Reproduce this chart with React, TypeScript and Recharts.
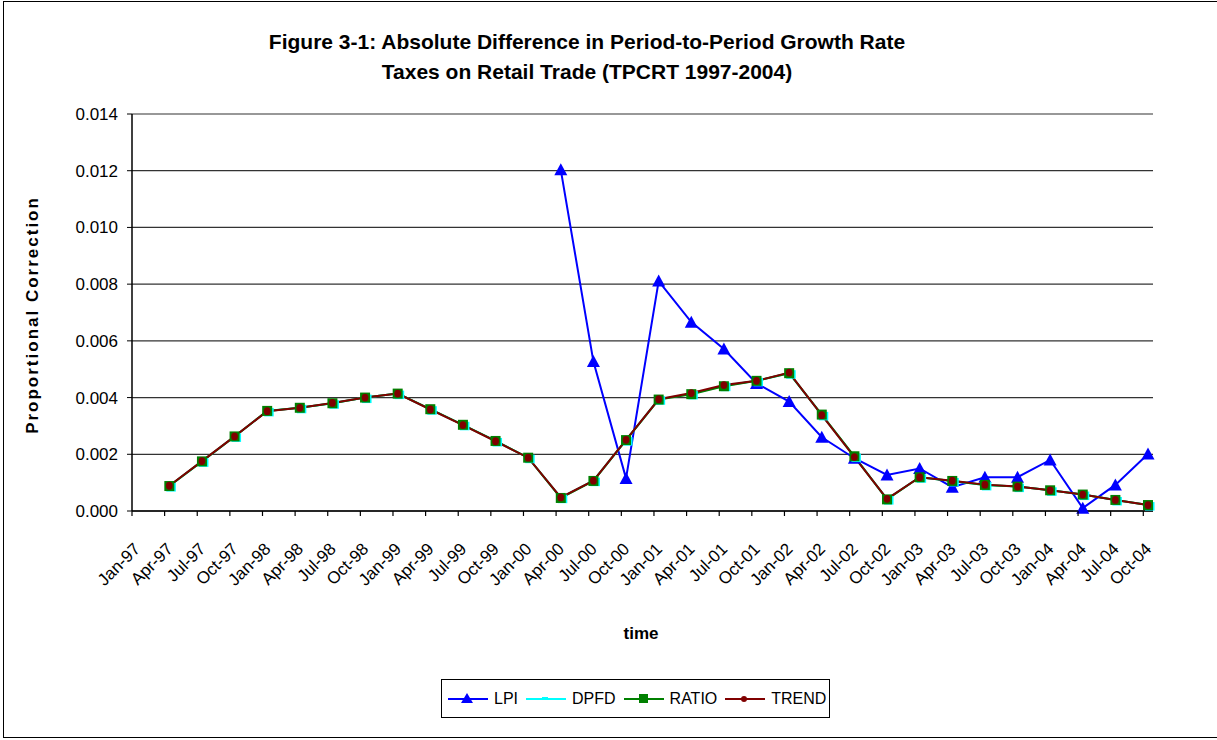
import { LineChart, Line, XAxis, YAxis, CartesianGrid, Legend } from "recharts";

const quarters = [
  "Jan-97", "Apr-97", "Jul-97", "Oct-97",
  "Jan-98", "Apr-98", "Jul-98", "Oct-98",
  "Jan-99", "Apr-99", "Jul-99", "Oct-99",
  "Jan-00", "Apr-00", "Jul-00", "Oct-00",
  "Jan-01", "Apr-01", "Jul-01", "Oct-01",
  "Jan-02", "Apr-02", "Jul-02", "Oct-02",
  "Jan-03", "Apr-03", "Jul-03", "Oct-03",
  "Jan-04", "Apr-04", "Jul-04", "Oct-04",
];

// LPI only starts in Apr-00
const lpi = [
  null, null, null, null, null, null, null, null, null, null, null, null, null,
  0.01203, 0.00527, 0.00115, 0.00811, 0.00666, 0.00571, 0.0045, 0.00386,
  0.0026, 0.00186, 0.00127, 0.0015, 0.00084, 0.00119, 0.00119, 0.0018,
  0.0001, 0.00092, 0.00201,
];

const dpfd = [
  null, 0.00088, 0.00175, 0.00263, 0.00353, 0.00364, 0.0038, 0.004,
  0.00414, 0.00359, 0.00304, 0.00247, 0.00188, 0.00047, 0.00107, 0.0025,
  0.00394, 0.00413, 0.00442, 0.00459, 0.00486, 0.00339, 0.00192, 0.00042,
  0.00119, 0.00106, 0.00092, 0.00086, 0.00073, 0.00058, 0.00039, 0.00021,
];

const ratio = [
  null, 0.00088, 0.00175, 0.00263, 0.00353, 0.00364, 0.0038, 0.004,
  0.00414, 0.00359, 0.00304, 0.00247, 0.00188, 0.00046, 0.00106, 0.0025,
  0.00393, 0.00412, 0.0044, 0.00459, 0.00486, 0.0034, 0.00193, 0.00041,
  0.00119, 0.00106, 0.00092, 0.00086, 0.00073, 0.00058, 0.00039, 0.00021,
];

const trend = [
  null, 0.00089, 0.00176, 0.00263, 0.00352, 0.00364, 0.00381, 0.004,
  0.00414, 0.00358, 0.00303, 0.00246, 0.00188, 0.00048, 0.00107, 0.00251,
  0.00394, 0.00416, 0.00444, 0.00459, 0.00488, 0.00338, 0.0019, 0.00043,
  0.00119, 0.00107, 0.00093, 0.00086, 0.00073, 0.00058, 0.00039, 0.00021,
];

const yTicks = [0, 0.002, 0.004, 0.006, 0.008, 0.01, 0.012, 0.014];

const legendOrder = ["lpi", "dpfd", "ratio", "trend"];

const data = quarters.map((q, i) => ({
  q,
  lpi: lpi[i],
  dpfd: dpfd[i],
  ratio: ratio[i],
  trend: trend[i],
}));

const FONT = "'Liberation Sans', Arial, sans-serif";

function Triangle({ cx, cy }: any) {
  if (cx == null || cy == null) return <g />;
  return <path d={`M${cx},${cy - 6.5} L${cx + 6.5},${cy + 5.5} L${cx - 6.5},${cy + 5.5} Z`} fill="#0000ff" />;
}

function Dash({ cx, cy }: any) {
  if (cx == null || cy == null) return <g />;
  return <rect x={cx - 3} y={cy - 3} width={9.5} height={8.5} fill="#00ffff" />;
}

function Square({ cx, cy }: any) {
  if (cx == null || cy == null) return <g />;
  return <rect x={cx - 5} y={cy - 5} width={10} height={10} fill="#008000" />;
}

function Dot({ cx, cy }: any) {
  if (cx == null || cy == null) return <g />;
  return <ellipse cx={cx} cy={cy} rx={3.4} ry={3.9} fill="#800000" />;
}

function XTick({ x, y, payload }: any) {
  const ax = x + 4.5;
  const ay = y + 31;
  return (
    <g>
      <line x1={x - 4.7} y1={y - 8} x2={x - 4.7} y2={y - 3} stroke="#000" strokeWidth={1.2} />
      <text
        x={ax}
        y={ay}
        textAnchor="end"
        fontSize={17}
        fontFamily={FONT}
        fill="#000"
        transform={`rotate(-45 ${ax} ${ay})`}
      >
        {payload.value}
      </text>
    </g>
  );
}

const legendIcons: Record<string, (c: string) => any> = {
  lpi: (c) => <path d="M14,3 L20,13 L8,13 Z" fill={c} />,
  dpfd: (c) => <rect x={11} y={7} width={6} height={3} fill={c} />,
  ratio: (c) => <rect x={10} y={4} width={9} height={9} fill={c} />,
  trend: (c) => <circle cx={14} cy={9} r={3} fill={c} />,
};

function LegendBox({ payload }: any) {
  const items = [...(payload || [])].sort(
    (a: any, b: any) => legendOrder.indexOf(a.dataKey) - legendOrder.indexOf(b.dataKey)
  );
  return (
    <div
      style={{
        border: "1px solid #000",
        background: "#fff",
        width: 389,
        height: 39,
        display: "flex",
        alignItems: "center",
        boxSizing: "border-box",
        paddingLeft: 5,
        fontFamily: FONT,
        fontSize: 16,
        color: "#000",
      }}
    >
      {items.map((p: any) => (
        <div key={p.dataKey} style={{ display: "flex", alignItems: "center", marginRight: 7 }}>
          <svg width={42} height={18}>
            <line x1={1} y1={9} x2={41} y2={9} stroke={p.color} strokeWidth={2} />
            <g transform="translate(6,0)">{legendIcons[p.dataKey](p.color)}</g>
          </svg>
          <span style={{ marginLeft: 5 }}>{p.value}</span>
        </div>
      ))}
    </div>
  );
}

export default function App() {
  return (
    <div style={{ position: "absolute", left: 0, top: 0, width: 1217, height: 740, background: "#fff", overflow: "hidden" }}>
      <div
        style={{
          position: "absolute",
          left: 3,
          top: 1,
          width: 1230,
          height: 735,
          border: "1.5px solid #000",
        }}
      />
      <LineChart
        width={1217}
        height={740}
        data={data}
        margin={{ top: 114, right: 64, left: 0, bottom: 169 }}
        style={{ position: "absolute", left: 0, top: 0 }}
      >
        <CartesianGrid vertical={false} stroke="#333" strokeWidth={1.2} />
        <XAxis
          dataKey="q"
          interval={0}
          padding={{ left: 4.7, right: 5 }}
          axisLine={{ stroke: "#000", strokeWidth: 1.5 }}
          tickLine={false}
          tick={<XTick />}
          height={60}
        />
        <YAxis
          domain={[0, 0.014]}
          ticks={yTicks}
          tickFormatter={(v: number) => v.toFixed(3)}
          width={132}
          tickSize={5}
          tickMargin={9}
          axisLine={{ stroke: "#000", strokeWidth: 1.5 }}
          tickLine={{ stroke: "#000" }}
          tick={{ fill: "#000", fontSize: 17, fontFamily: FONT }}
        />
        <YAxis
          yAxisId="frame"
          orientation="right"
          width={0}
          tick={false}
          tickLine={false}
          axisLine={{ stroke: "#888", strokeWidth: 1.5 }}
        />
        <Legend
          layout="horizontal"
          verticalAlign="middle"
          content={<LegendBox />}
          wrapperStyle={{ left: 441, top: 679, width: 391, height: 41 }}
        />
        <Line
          dataKey="lpi"
          name="LPI"
          stroke="#0000ff"
          strokeWidth={2}
          dot={<Triangle />}
          activeDot={false}
          isAnimationActive={false}
        />
        <Line
          dataKey="dpfd"
          name="DPFD"
          stroke="#00ffff"
          strokeWidth={2}
          dot={<Dash />}
          activeDot={false}
          isAnimationActive={false}
        />
        <Line
          dataKey="ratio"
          name="RATIO"
          stroke="#008000"
          strokeWidth={2}
          dot={<Square />}
          activeDot={false}
          isAnimationActive={false}
        />
        <Line
          dataKey="trend"
          name="TREND"
          stroke="#800000"
          strokeWidth={2}
          dot={<Dot />}
          activeDot={false}
          isAnimationActive={false}
        />
      </LineChart>
      <svg width={1217} height={740} style={{ position: "absolute", left: 0, top: 0, pointerEvents: "none" }}>
        <text x={587} y={49} textAnchor="middle" fontFamily={FONT} fontWeight="bold" fontSize={21}>
          Figure 3-1: Absolute Difference in Period-to-Period Growth Rate
        </text>
        <text x={587} y={79} textAnchor="middle" fontFamily={FONT} fontWeight="bold" fontSize={21}>
          Taxes on Retail Trade (TPCRT 1997-2004)
        </text>
        <text
          x={38}
          y={315}
          textAnchor="middle"
          fontFamily={FONT}
          fontWeight="bold"
          fontSize={17}
          letterSpacing={2}
          transform="rotate(-90 38 315)"
        >
          Proportional Correction
        </text>
        <text x={641} y={639} textAnchor="middle" fontFamily={FONT} fontWeight="bold" fontSize={17}>
          time
        </text>
      </svg>
    </div>
  );
}
